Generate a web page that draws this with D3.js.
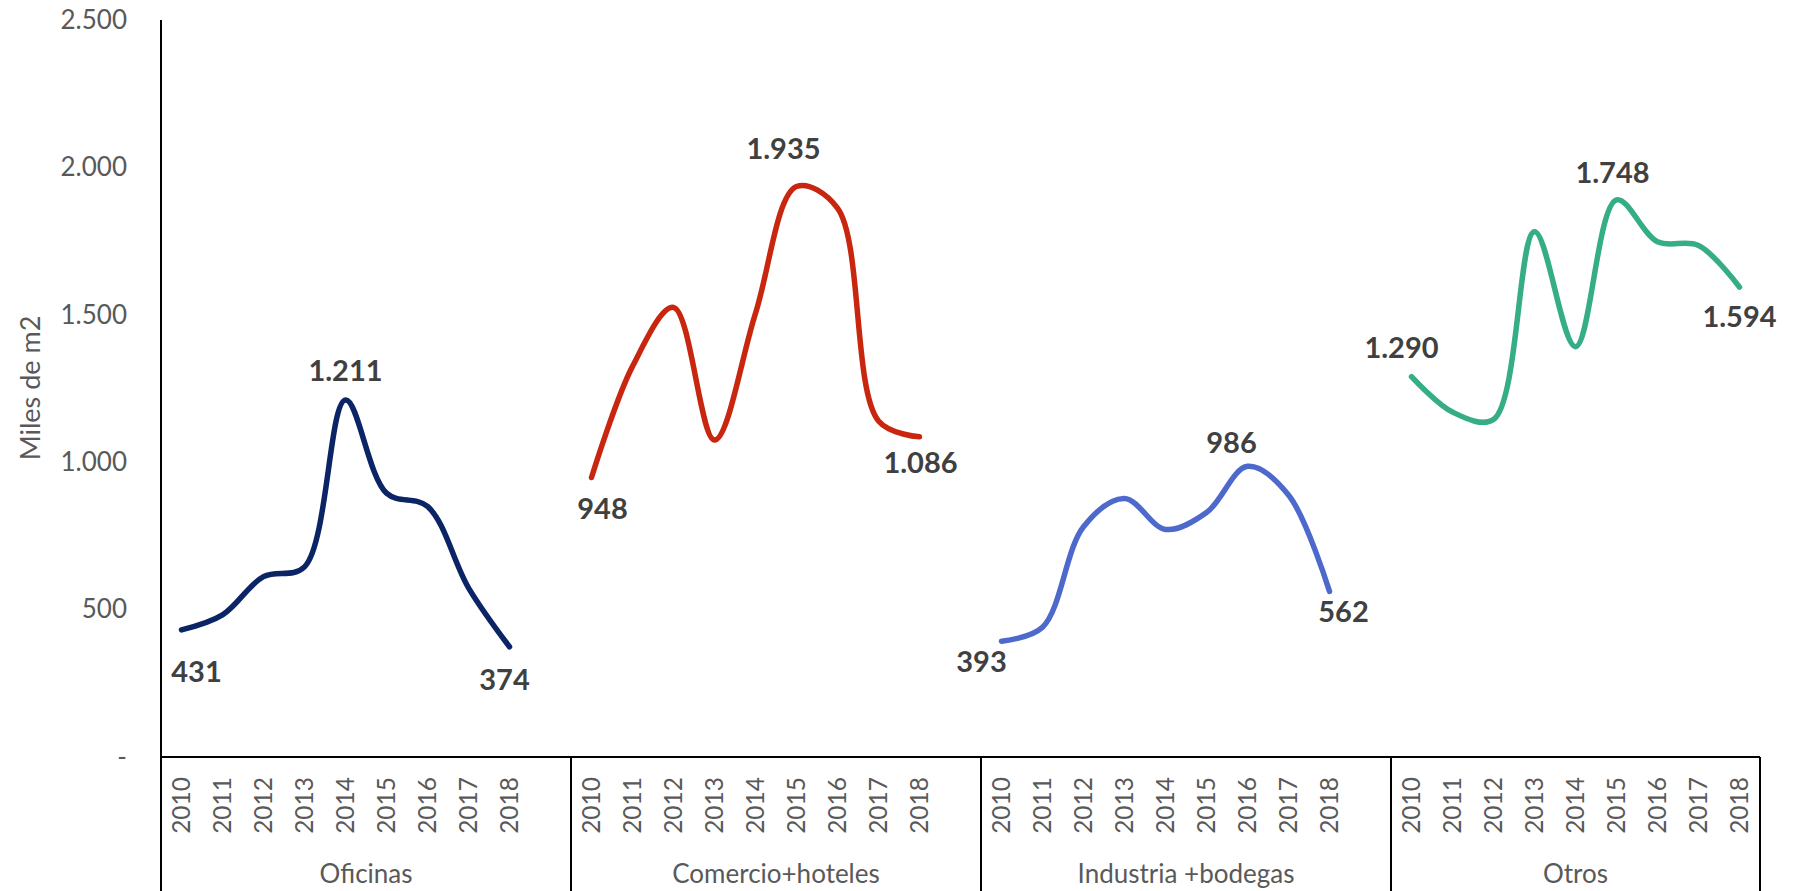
<!DOCTYPE html>
<html>
<head>
<meta charset="utf-8">
<script src="https://cdn.jsdelivr.net/npm/d3@7"></script>
<style>
  body { margin: 0; background: #fff; }
  text { font-family: Lato, "Open Sans", sans-serif; }
</style>
</head>
<body>
<div id="chart"></div>
<script>
// data
var anios = ["2010", "2011", "2012", "2013", "2014", "2015", "2016", "2017", "2018"];
var categorias = ["Oficinas", "Comercio+hoteles", "Industria +bodegas", "Otros"];

var oficinas  = [431, 482, 612, 645, 1211, 895, 850, 574, 374];
var comercio  = [948, 1325, 1525, 1075, 1505, 1935, 1862, 1140, 1086];
var industria = [393, 440, 781, 877, 772, 829, 986, 889, 562];
var otros     = [1290, 1170, 1145, 1782, 1392, 1890, 1748, 1735, 1594];

var yTicks = [0, 500, 1000, 1500, 2000, 2500];

// data labels as printed on the chart
var etiquetas = [
  { cat: "Oficinas", anio: "2010", texto: "431" },
  { cat: "Oficinas", anio: "2014", texto: "1.211" },
  { cat: "Oficinas", anio: "2018", texto: "374" },
  { cat: "Comercio+hoteles", anio: "2010", texto: "948" },
  { cat: "Comercio+hoteles", anio: "2015", texto: "1.935" },
  { cat: "Comercio+hoteles", anio: "2018", texto: "1.086" },
  { cat: "Industria +bodegas", anio: "2010", texto: "393" },
  { cat: "Industria +bodegas", anio: "2016", texto: "986" },
  { cat: "Industria +bodegas", anio: "2018", texto: "562" },
  { cat: "Otros", anio: "2010", texto: "1.290" },
  { cat: "Otros", anio: "2015", texto: "1.748" },
  { cat: "Otros", anio: "2018", texto: "1.594" }
];

var series = [
  { cat: categorias[0], valores: oficinas,  color: "#0b2466" },
  { cat: categorias[1], valores: comercio,  color: "#c8260f" },
  { cat: categorias[2], valores: industria, color: "#4d69cc" },
  { cat: categorias[3], valores: otros,     color: "#35ad87" }
];

// label placement (dx, baseline dy) relative to the point
var labelOffset = {
  "Oficinas|2010": [15, 52], "Oficinas|2014": [0, -19], "Oficinas|2018": [-5, 43],
  "Comercio+hoteles|2010": [11, 41], "Comercio+hoteles|2015": [-13, -28], "Comercio+hoteles|2018": [1, 36],
  "Industria +bodegas|2010": [-20, 31], "Industria +bodegas|2016": [-16, -13], "Industria +bodegas|2018": [14, 31],
  "Otros|2010": [-10, -19], "Otros|2015": [-4, -17], "Otros|2018": [0, 40]
};

var svgWidth = 1806;
var svgHeight = 891;

var margin = { top: 20, right: 46, bottom: 134, left: 161 };
var width = svgWidth - margin.left - margin.right;
var height = svgHeight - margin.top - margin.bottom;

var svg = d3.select("#chart")
  .append("svg")
  .attr("width", svgWidth)
  .attr("height", svgHeight);

var chartGroup = svg.append("g")
  .attr("transform", `translate(${margin.left}, ${margin.top})`);

// slots: 9 years per category plus an empty slot between categories
var slots = [];
categorias.forEach(function(c, i) {
  anios.forEach(function(a) { slots.push(c + "|" + a); });
  if (i < categorias.length - 1) slots.push(c + "|gap");
});

var xScale = d3.scaleBand().domain(slots).range([0, width]);
var xc = function(key) { return xScale(key) + xScale.bandwidth() / 2; };

var yScale = d3.scaleLinear().domain([0, 2500]).range([height, 0]);

var loc = d3.formatLocale({ decimal: ",", thousands: ".", grouping: [3], currency: ["$", ""] });
var fmt = loc.format(",.0f");

// y axis
var leftAxis = d3.axisLeft(yScale)
  .tickValues(yTicks)
  .tickSize(0)
  .tickPadding(34)
  .tickFormat(function(d) { return d === 0 ? "-" : fmt(d); });

var yAxisG = chartGroup.append("g").call(leftAxis);
yAxisG.select(".domain").remove();
yAxisG.selectAll("text")
  .attr("fill", "#595959")
  .style("font-size", "26px")
  .style("font-family", "Lato");

// x axis (years)
var bottomAxis = d3.axisBottom(xScale)
  .tickValues(slots.filter(function(s) { return s.indexOf("|gap") < 0; }))
  .tickSize(0)
  .tickFormat(function(d) { return d.split("|")[1]; });

var xAxisG = chartGroup.append("g")
  .attr("transform", `translate(0, ${height})`)
  .call(bottomAxis);
xAxisG.select(".domain").remove();
xAxisG.selectAll("text")
  .attr("transform", "rotate(-90)")
  .attr("text-anchor", "end")
  .attr("x", -20)
  .attr("y", 0)
  .attr("dy", "0.35em")
  .attr("fill", "#595959")
  .style("font-size", "24.5px")
  .style("font-family", "Lato");

// axis lines
chartGroup.append("line")
  .attr("x1", 0).attr("x2", 0)
  .attr("y1", 0).attr("y2", svgHeight - margin.top)
  .attr("stroke", "#000").attr("stroke-width", 2);

chartGroup.append("line")
  .attr("x1", 0).attr("x2", width)
  .attr("y1", height).attr("y2", height)
  .attr("stroke", "#000").attr("stroke-width", 2);

// category separators and names
var bounds = categorias.map(function(c) { return xScale(c + "|2010"); });
bounds.push(width);

chartGroup.selectAll(".sep")
  .data(bounds)
  .enter()
  .append("line")
  .attr("class", "sep")
  .attr("x1", d => d).attr("x2", d => d)
  .attr("y1", height).attr("y2", svgHeight - margin.top)
  .attr("stroke", "#000").attr("stroke-width", 2);

chartGroup.selectAll(".catLabel")
  .data(categorias)
  .enter()
  .append("text")
  .attr("class", "catLabel")
  .attr("x", (d, i) => (bounds[i] + bounds[i + 1]) / 2)
  .attr("y", height + 126)
  .attr("text-anchor", "middle")
  .attr("fill", "#595959")
  .style("font-size", "26px")
  .text(d => d);

// y axis title
svg.append("text")
  .attr("transform", "rotate(-90)")
  .attr("x", -388)
  .attr("y", 31)
  .attr("dy", "0.35em")
  .attr("text-anchor", "middle")
  .attr("fill", "#595959")
  .style("font-size", "27px")
  .text("Miles de m2");

// lines
var line = d3.line()
  .x(d => xc(d.key))
  .y(d => yScale(d.value))
  .curve(d3.curveCatmullRom.alpha(0.5));

series.forEach(function(s) {
  var pts = s.valores.map(function(v, i) { return { key: s.cat + "|" + anios[i], value: v }; });
  chartGroup.append("path")
    .datum(pts)
    .attr("d", line)
    .attr("fill", "none")
    .attr("stroke", s.color)
    .attr("stroke-width", 5.5)
    .attr("stroke-linecap", "round")
    .attr("stroke-linejoin", "round");
});

// data labels
var valueOf = function(cat, anio) {
  var s = series.filter(function(d) { return d.cat === cat; })[0];
  return s.valores[anios.indexOf(anio)];
};

chartGroup.selectAll(".dataLabel")
  .data(etiquetas)
  .enter()
  .append("text")
  .attr("class", "dataLabel")
  .attr("x", d => xc(d.cat + "|" + d.anio) + labelOffset[d.cat + "|" + d.anio][0])
  .attr("y", d => yScale(valueOf(d.cat, d.anio)) + labelOffset[d.cat + "|" + d.anio][1])
  .attr("text-anchor", "middle")
  .attr("fill", "#404040")
  .style("font-size", "29px")
  .style("font-weight", "bold")
  .text(d => d.texto);
</script>
</body>
</html>
